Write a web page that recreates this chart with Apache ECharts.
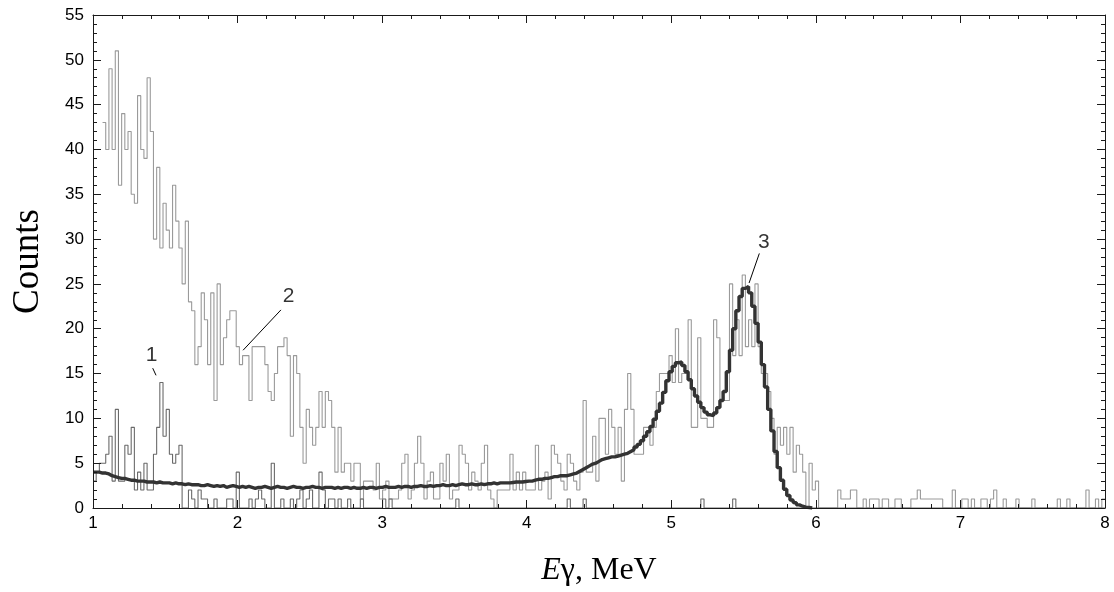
<!DOCTYPE html>
<html>
<head>
<meta charset="utf-8">
<script src="https://cdn.jsdelivr.net/npm/echarts@6/dist/echarts.min.js"></script>
<style>
html,body{margin:0;padding:0;background:#fff;}
#chart{width:1114px;height:592px;}
</style>
</head>
<body>
<div id="chart"></div>
<script>
// ---- axis settings ----
const X_MIN = 1, X_MAX = 8, X_INTERVAL = 1;
const Y_MIN = 0, Y_MAX = 55, Y_INTERVAL = 5;
const X_TICK_LABELS = ['1','2','3','4','5','6','7','8'];
const Y_TICK_LABELS = ['0','5','10','15','20','25','30','35','40','45','50','55'];

// ---- histogram binning (energy of first bin edge, bin width in MeV) ----
const BIN_START = 1.0;
const BIN_WIDTH = 7 / 318;

// ---- spectrum 1 (counts per bin) ----
const spectrum1 = [
  3,4,5,5,6,8,3,11,3,3,
  7,6,9,2,4,2,5,2,2,6,
  9,14,8,11,6,5,6,7,0,0,
  2,1,0,2,1,1,0,0,1,0,
  0,0,1,1,0,4,0,0,0,1,
  0,1,2,1,0,0,5,0,0,1,
  0,0,1,0,1,2,0,1,2,0,
  0,4,2,0,1,1,0,1,0,0,
  1,0,0,0,1,0,0,0,0,0,
  0,1,0,1,0,0,0,0,0,0,
  0,0,0,0,0,0,0,0,0,0,
  0,0,0,0,1,0,0,0,0,0,
  0,0,0,0,0,0,0,0,0,0,
  0,0,0,0,0,0,0,0,0,0,
  0,0,0,0,0,0,0,0,0,1,
  0,0,0,0,1,0,0,0,0,0,
  0,0,0,0,0,0,0,0,0,0,
  0,0,0,0,0,0,0,0,0,0,
  0,0,0,0,0,0,0,0,0,0,
  0,1,0,0,0,0,0,0,0,0,
  0,1,0,0,0,0,0,0,0,0,
  0,0,0,0,0,0,0,0,0,0,
  0,0,0,0,0,0,0,0,0,0,
  0,0,0,0,0,0,0,0,0,0,
  0,0,0,0,0,0,0,0,0,0,
  0,0,0,0,0,0,0,0,0,0,
  0,0,0,0,0,0,0,0,0,0,
  0,0,0,0,0,0,0,0,0,0,
  0,0,0,0,0,0,0,0,0,0,
  0,0,0,0,0,0,0,0,0,0,
  0,0,0,0,0,0,0,0,0,0,
  0,0,0,0,0,0,0,0
];

// ---- spectrum 2 (counts per bin) ----
const spectrum2 = [
  null,null,null,43,40,49,40,51,36,44,
  40,42,35,34,46,40,39,48,42,30,
  38,29,34,31,29,36,32,29,25,32,
  23,22,16,18,24,21,16,24,12,25,
  16,19,21,22,22,18,16,17,17,12,
  18,18,18,18,16,13,12,15,18,18,
  19,17,8,17,15,9,5,11,9,7,
  9,13,9,13,12,9,4,9,4,5,
  5,3,5,5,1,3,3,3,2,5,
  1,2,3,1,1,1,2,5,6,1,
  2,5,8,5,1,3,4,1,1,5,
  3,6,1,2,2,7,6,5,2,4,
  3,2,5,7,2,1,0,2,2,2,
  2,6,2,4,2,4,2,2,2,7,
  2,3,4,1,7,6,5,3,2,6,
  5,3,2,4,12,4,4,8,3,10,
  10,6,11,9,6,9,3,11,15,11,
  6,6,6,9,9,7,9,13,15,15,
  15,17,14,20,14,15,15,21,9,9,
  19,10,10,9,9,21,19,12,12,12,
  25,17,21,17,26,18,21,18,25,18,
  15,15,13,10,6,9,7,9,6,9,
  4,7,6,4,0,5,2,3,0,0,
  0,0,0,0,2,1,1,1,2,2,
  0,0,1,0,1,1,1,0,1,1,
  0,0,1,1,0,0,0,1,1,2,
  1,1,1,1,1,1,1,0,0,0,
  2,0,0,1,1,0,1,0,0,1,
  1,0,1,2,0,0,1,0,0,0,
  1,0,0,0,0,1,0,0,0,0,
  0,0,0,1,0,0,1,0,0,0,
  0,0,2,0,0,1,0,1
];

// ---- fitted response (curve 3) ----
const fit3 = [
  4.0,4.0,3.9,3.9,3.8,3.6,3.5,3.4,3.3,3.3,
  3.2,3.1,3.1,3.0,3.0,3.0,2.9,2.9,2.9,2.8,
  2.9,2.8,2.8,2.8,2.7,2.8,2.7,2.7,2.6,2.7,
  2.6,2.6,2.6,2.5,2.5,2.6,2.5,2.4,2.5,2.4,
  2.5,2.3,2.4,2.5,2.4,2.3,2.4,2.3,2.4,2.3,
  2.2,2.3,2.3,2.4,2.3,2.2,2.3,2.4,2.3,2.3,
  2.2,2.3,2.4,2.3,2.3,2.2,2.3,2.3,2.4,2.3,
  2.3,2.2,2.3,2.3,2.3,2.2,2.3,2.2,2.3,2.3,
  2.2,2.3,2.2,2.2,2.3,2.2,2.3,2.3,2.2,2.3,
  2.3,2.4,2.3,2.3,2.3,2.4,2.3,2.4,2.4,2.3,
  2.4,2.4,2.5,2.4,2.4,2.5,2.4,2.5,2.5,2.6,
  2.5,2.5,2.6,2.5,2.6,2.7,2.6,2.6,2.7,2.6,
  2.6,2.7,2.6,2.7,2.7,2.8,2.7,2.8,2.8,2.8,
  2.8,2.85,2.9,2.9,2.9,2.95,3.0,3.0,3.1,3.2,
  3.2,3.3,3.3,3.4,3.5,3.5,3.6,3.6,3.6,3.7,
  3.8,3.9,4.1,4.3,4.5,4.7,4.9,5.0,5.2,5.4,
  5.5,5.6,5.7,5.7,5.8,5.9,6.0,6.1,6.3,6.5,
  6.8,7.1,7.5,8.0,8.5,9.1,9.9,10.8,11.7,12.9,
  14.2,15.2,15.8,16.2,16.3,15.9,15.2,14.3,13.3,12.5,
  11.8,11.2,10.7,10.4,10.3,10.6,11.2,12.0,13.0,15.2,
  17.6,20.0,22.0,23.6,24.5,24.7,24.0,22.5,20.6,18.5,
  16.0,13.5,11.0,8.6,6.3,4.5,3.1,2.1,1.4,0.9,
  0.6,0.35,0.2,0.1,0.05,0
];

// ---- annotation labels: [energy, counts, text] and pointer lines ----
const labelPoints = [[1.405, 17.0, '1'], [2.353, 23.6, '2'], [5.64, 29.6, '3']];
const pointerLines = [
  [[1.413, 15.6], [1.436, 14.8]],
  [[2.038, 17.6], [2.300, 22.1]],
  [[5.538, 25.1], [5.609, 28.4]]
];

function buildSteps(vals) {
  const out = [];
  let last = null;
  for (let i = 0; i < vals.length; i++) {
    const v = vals[i];
    const x = BIN_START + i * BIN_WIDTH;
    if (v === null || v === undefined) {
      if (last !== null) { out.push([x, last]); out.push([x, null]); }
      last = null;
      continue;
    }
    out.push([x, v]);
    last = v;
  }
  if (last !== null) out.push([BIN_START + vals.length * BIN_WIDTH, last]);
  return out;
}

const SANS = 'Liberation Sans, Arial, sans-serif';
const SERIF = 'Liberation Serif, Times New Roman, serif';
const AXIS_COLOR = '#1a1a1a';

function xAxisCfg(pos, showLabels) {
  return {
    type: 'value', position: pos, min: X_MIN, max: X_MAX, interval: X_INTERVAL,
    z: 10,
    axisLine: { show: true, onZero: false, lineStyle: { color: AXIS_COLOR, width: 1 } },
    axisTick: { show: true, inside: true, length: 8, lineStyle: { color: AXIS_COLOR } },
    minorTick: { show: true, splitNumber: 5, length: 4, lineStyle: { color: AXIS_COLOR } },
    splitLine: { show: false },
    axisLabel: showLabels ? {
      show: true, margin: 7, color: '#000', fontFamily: SANS, fontSize: 17,
      formatter: v => X_TICK_LABELS[Math.round(v - X_MIN)] ?? ''
    } : { show: false },
    name: showLabels ? '{i|E}γ, MeV' : '',
    nameLocation: 'middle', nameGap: 47,
    nameTextStyle: {
      color: '#000', fontFamily: SERIF, fontSize: 32,
      rich: { i: { fontStyle: 'italic', fontFamily: SERIF, fontSize: 32, color: '#000' } }
    }
  };
}
function yAxisCfg(pos, showLabels) {
  return {
    type: 'value', position: pos, min: Y_MIN, max: Y_MAX, interval: Y_INTERVAL,
    z: 10,
    axisLine: { show: true, onZero: false, lineStyle: { color: AXIS_COLOR, width: 1 } },
    axisTick: { show: true, inside: true, length: 8, lineStyle: { color: AXIS_COLOR } },
    minorTick: { show: true, splitNumber: 5, length: 4, lineStyle: { color: AXIS_COLOR } },
    splitLine: { show: false },
    axisLabel: showLabels ? {
      show: true, margin: 9, color: '#000', fontFamily: SANS, fontSize: 17,
      formatter: v => Y_TICK_LABELS[Math.round((v - Y_MIN) / Y_INTERVAL)] ?? ''
    } : { show: false },
    name: showLabels ? 'Counts' : '',
    nameLocation: 'middle', nameGap: 46, nameRotate: 90,
    nameTextStyle: { color: '#000', fontFamily: SERIF, fontSize: 37 }
  };
}

const chart = echarts.init(document.getElementById('chart'), null, { renderer: 'canvas' });
chart.setOption({
  animation: false,
  backgroundColor: '#fff',
  grid: { left: 93, right: 9, top: 15, bottom: 84, containLabel: false, outerBoundsMode: 'none' },
  xAxis: [xAxisCfg('bottom', true), xAxisCfg('top', false)],
  yAxis: [yAxisCfg('left', true), yAxisCfg('right', false)],
  series: [
    {
      name: 'spectrum 2', type: 'line', step: 'end', showSymbol: false, symbol: 'none',
      data: buildSteps(spectrum2), connectNulls: false,
      lineStyle: { color: '#9a9a9a', width: 1.1 }, z: 2
    },
    {
      name: 'spectrum 1', type: 'line', step: 'end', showSymbol: false, symbol: 'none',
      data: buildSteps(spectrum1), connectNulls: false,
      lineStyle: { color: '#6a6a6a', width: 1.1 }, z: 3
    },
    {
      name: 'fit 3', type: 'line', step: 'end', showSymbol: false, symbol: 'none',
      data: buildSteps(fit3), connectNulls: false,
      lineStyle: { color: '#333333', width: 3.4 }, z: 4,
      markLine: {
        silent: true, symbol: ['none', 'none'], animation: false,
        label: { show: false },
        lineStyle: { color: '#000', width: 1, type: 'solid' },
        data: pointerLines.map(p => [{ coord: p[0] }, { coord: p[1] }])
      }
    },
    {
      name: 'labels', type: 'scatter', symbolSize: 1,
      itemStyle: { color: 'rgba(0,0,0,0)' },
      data: labelPoints,
      label: {
        show: true, position: 'inside', color: '#000', fontFamily: SANS, fontSize: 21,
        formatter: p => p.value[2]
      }, z: 5
    }
  ]
});
</script>
</body>
</html>
